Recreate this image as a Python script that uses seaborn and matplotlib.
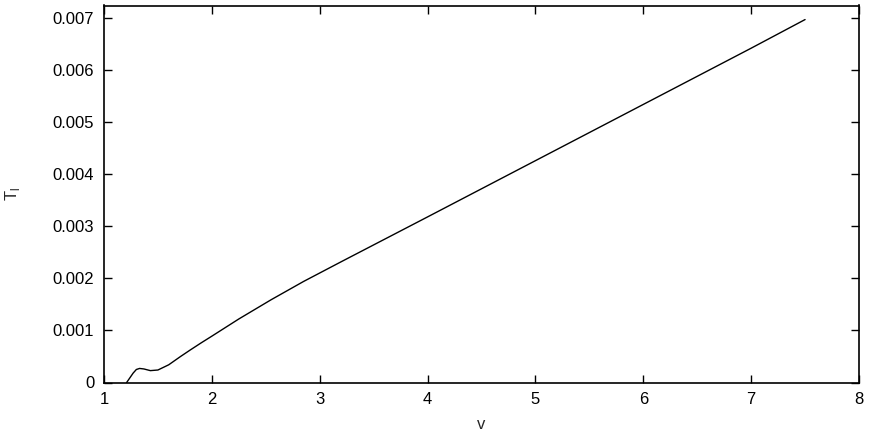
import matplotlib
matplotlib.use("Agg")
import matplotlib.pyplot as plt
import seaborn as sns
import pandas as pd

v = [1.21, 1.24, 1.27, 1.30, 1.33, 1.37, 1.43, 1.50, 1.60, 1.71, 1.80, 1.90,
     2.00, 2.25, 2.55, 2.85, 3.20, 3.60, 4.00, 4.50, 5.00, 5.50, 6.00, 6.50,
     7.00, 7.50]
T_l = [0.0, 0.00009, 0.00018, 0.00025, 0.00027, 0.00026, 0.000228, 0.00024,
       0.00034, 0.00050, 0.000625, 0.00076, 0.00089, 0.00122, 0.00159,
       0.00194, 0.00232, 0.00275, 0.00318, 0.00372, 0.00426, 0.00480,
       0.00534, 0.00588, 0.00642, 0.00697]
xticks = [1, 2, 3, 4, 5, 6, 7, 8]
yticks = [0, 0.001, 0.002, 0.003, 0.004, 0.005, 0.006, 0.007]
ytick_labels = ["0", "0.001", "0.002", "0.003", "0.004", "0.005", "0.006", "0.007"]

df = pd.DataFrame({"v": v, "T_l": T_l})

sns.set_theme(style="ticks")
plt.rcParams["font.family"] = ["Liberation Sans", "DejaVu Sans"]
plt.rcParams["mathtext.fontset"] = "custom"
plt.rcParams["mathtext.rm"] = "Liberation Sans"

fig = plt.figure(figsize=(8.69, 4.37), dpi=100)
ax = fig.add_axes([104 / 869, 1 - 382.5 / 437, (859 - 104) / 869, (382.5 - 5.5) / 437])
sns.lineplot(data=df, x="v", y="T_l", ax=ax, color="black", linewidth=1.0)

ax.set_xlim(1, 8)
ax.set_ylim(0, 0.00724)
ax.set_xticks(xticks)
ax.set_xticklabels([str(t) for t in xticks])
ax.set_yticks(yticks)
ax.set_yticklabels(ytick_labels)
ax.tick_params(direction="in", length=6, width=1, top=True, right=True,
               labelsize=12, colors="black", pad=7)
for s in ax.spines.values():
    s.set_visible(True)
    s.set_linewidth(1.2)
    s.set_color("black")
ax.set_xlabel("v", fontsize=12, labelpad=7)
ax.set_ylabel(r"T$_\mathregular{l}$", fontsize=12, labelpad=22)

fig.savefig("out.png", dpi=100)
